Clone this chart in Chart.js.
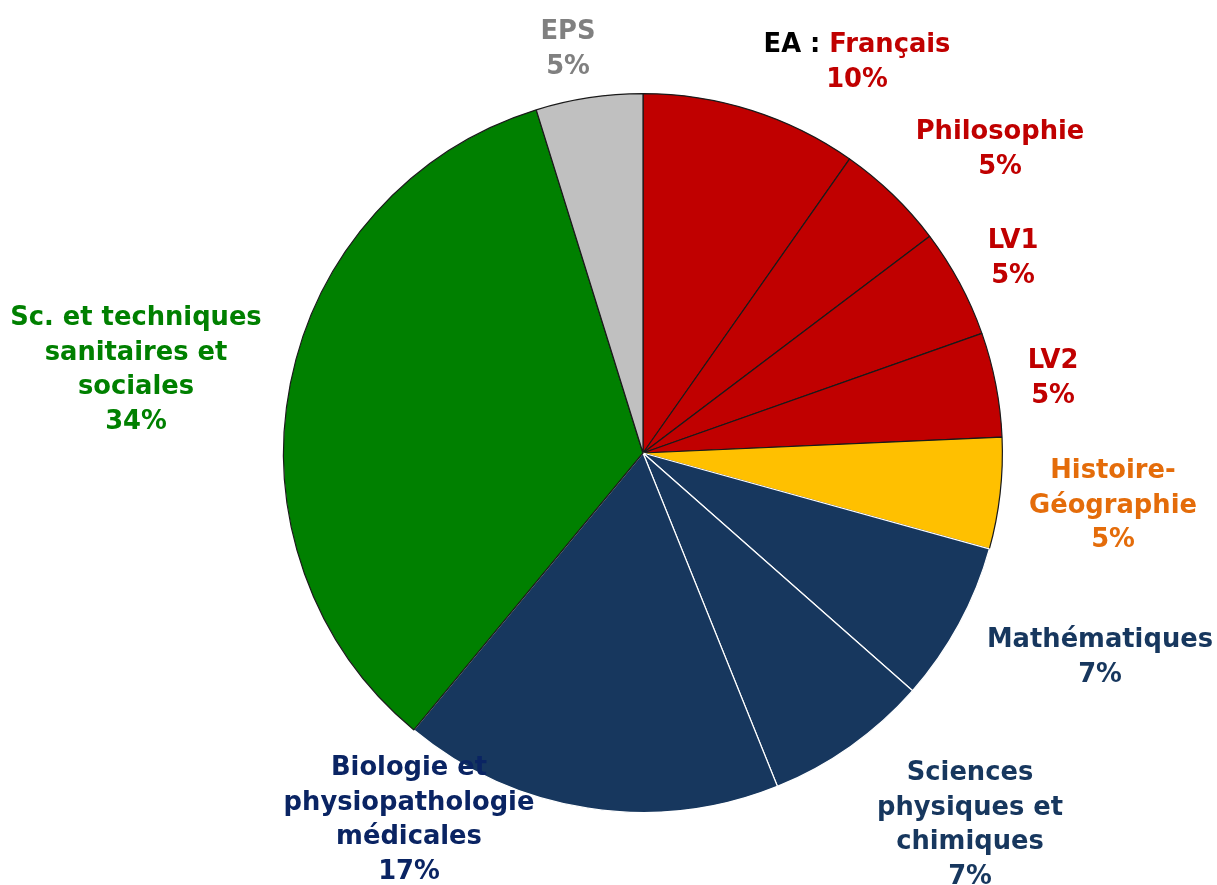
<!DOCTYPE html>
<html>
<head>
<meta charset="utf-8">
<script src="https://cdn.jsdelivr.net/npm/chart.js@4"></script>
<style>
html,body{margin:0;padding:0;background:#fff;}
#wrap{width:1217px;height:885px;position:relative;}
</style>
</head>
<body>
<div id="wrap"><canvas id="c" width="1217" height="885"></canvas></div>
<script>
// ---- data ----
const categories = ["EA : Français","Philosophie","LV1","LV2","Histoire-Géographie","Mathématiques","Sciences physiques et chimiques","Biologie et physiopathologie médicales","Sc. et techniques sanitaires et sociales","EPS"];
const values = [9.75, 4.95, 4.9, 4.7, 5.0, 7.2, 7.4, 17.1, 34.2, 4.8];
const labelLines = [
  ["EA : Français"],
  ["Philosophie"],
  ["LV1"],
  ["LV2"],
  ["Histoire-","Géographie"],
  ["Mathématiques"],
  ["Sciences","physiques et","chimiques"],
  ["Biologie et","physiopathologie","médicales"],
  ["Sc. et techniques","sanitaires et","sociales"],
  ["EPS"]
];

// ---- styles ----
const sliceColors = ["#C00000","#C00000","#C00000","#C00000","#FFC000","#17375E","#17375E","#17375E","#008000","#C0C0C0"];
const borderColors = ["#1a1a1a","#1a1a1a","#1a1a1a","#1a1a1a","#1a1a1a","#ffffff","#ffffff","#ffffff","#1a1a1a","#1a1a1a"];
const textColors = ["#C00000","#C00000","#C00000","#C00000","#E46C0A","#17375E","#17375E","#0A2463","#008000","#808080"];
// label anchors: center x, first baseline y
const labelLayout = [
  {x:857,y:52},{x:1000,y:139},{x:1013,y:248},{x:1053,y:368},{x:1113,y:478},
  {x:1100,y:647},{x:970,y:780},{x:409,y:775},{x:136,y:325},{x:568,y:39}
];

const total = values.reduce((a,b)=>a+b,0);

const labelPlugin = {
  id:'sliceLabels',
  afterDatasetsDraw(chart){
    const ctx = chart.ctx;
    const fontSize = 27;
    const lh = 34.5;
    ctx.save();
    ctx.font = "bold " + fontSize + "px 'DejaVu Sans'";
    const sx = 226 / ctx.measureText("Mathématiques").width;
    ctx.textBaseline = 'alphabetic';
    ctx.textAlign = 'left';
    const drawCentered = (parts, cx, y) => {
      let w = 0;
      parts.forEach(p => { w += ctx.measureText(p.t).width; });
      let x = -w/2;
      ctx.save();
      ctx.translate(cx, y);
      ctx.scale(sx, 1);
      parts.forEach(p => { ctx.fillStyle = p.c; ctx.fillText(p.t, x, 0); x += ctx.measureText(p.t).width; });
      ctx.restore();
    };
    categories.forEach((cat, i) => {
      const pos = labelLayout[i];
      const lines = labelLines[i].slice();
      const pct = Math.round(values[i] / total * 100) + "%";
      let y = pos.y;
      lines.forEach((ln) => {
        if (ln.startsWith("EA : ")) {
          drawCentered([{t:"EA : ", c:"#000000"},{t:ln.slice(5), c:textColors[i]}], pos.x, y);
        } else {
          drawCentered([{t:ln, c:textColors[i]}], pos.x, y);
        }
        y += lh;
      });
      drawCentered([{t:pct, c:textColors[i]}], pos.x, y);
    });
    ctx.restore();
  }
};

new Chart(document.getElementById('c'), {
  type: 'pie',
  data: {
    labels: categories,
    datasets: [{
      data: values,
      backgroundColor: sliceColors,
      borderColor: borderColors,
      borderWidth: 1.2
    }]
  },
  options: {
    responsive: false,
    animation: false,
    layout: { padding: { top: 93, bottom: 72, left: 200, right: 131 } },
    plugins: { legend: { display: false }, tooltip: { enabled: false } }
  },
  plugins: [labelPlugin]
});
</script>
</body>
</html>
